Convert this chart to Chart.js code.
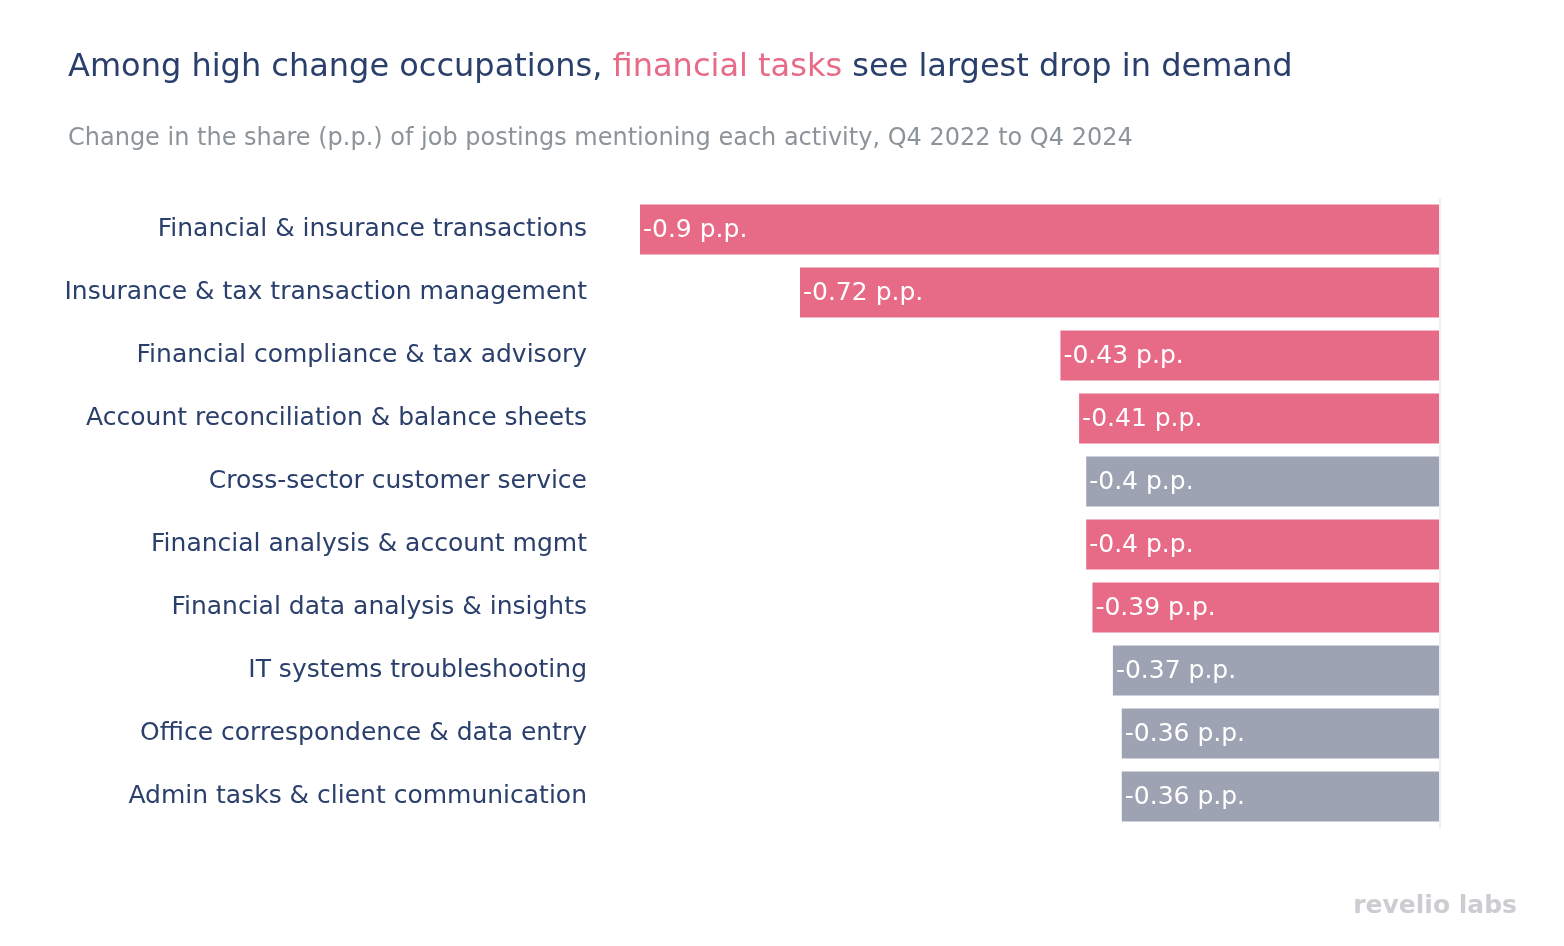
<!DOCTYPE html>
<html>
<head>
<meta charset="utf-8">
<script src="https://cdn.jsdelivr.net/npm/chart.js@4.4.1/dist/chart.umd.min.js"></script>
<style>
  body { margin: 0; background: #fff; }
  #wrap { width: 1564px; height: 946px; position: relative; }
</style>
</head>
<body>
<div id="wrap"><canvas id="bars"></canvas></div>
<script>
Chart.defaults.font.family = '"DejaVu Sans", Verdana, sans-serif';
Chart.defaults.color = '#2A3F6B';

// data
const activities = [
    'Financial & insurance transactions',
    'Insurance & tax transaction management',
    'Financial compliance & tax advisory',
    'Account reconciliation & balance sheets',
    'Cross-sector customer service',
    'Financial analysis & account mgmt',
    'Financial data analysis & insights',
    'IT systems troubleshooting',
    'Office correspondence & data entry',
    'Admin tasks & client communication'
];
const changePP = [-0.9, -0.72, -0.427, -0.406, -0.398, -0.398, -0.391, -0.368, -0.358, -0.358];
const isFinancial = [true, true, true, true, false, true, true, false, false, false];

const PINK = '#E76A87';
const GREY = '#9EA3B3';

// title, subtitle, zero line, value labels, logo
const decorPlugin = {
    id: 'decor',
    afterDatasetsDraw(chart) {
        const ctx = chart.ctx;
        const area = chart.chartArea;
        const x0 = chart.scales.x.getPixelForValue(0);

        ctx.save();
        ctx.strokeStyle = '#ECEEF4';
        ctx.lineWidth = 2;
        ctx.beginPath();
        ctx.moveTo(x0, area.top);
        ctx.lineTo(x0, area.bottom);
        ctx.stroke();

        // value labels inside bars
        ctx.font = '25px "DejaVu Sans", Verdana, sans-serif';
        ctx.fillStyle = '#ffffff';
        ctx.textAlign = 'left';
        ctx.textBaseline = 'middle';
        chart.getDatasetMeta(0).data.forEach((bar, i) => {
            const txt = (Math.round(changePP[i] * 100) / 100) + ' p.p.';
            ctx.fillText(txt, bar.x + 3, bar.y + 1);
        });

        // title with highlighted words
        ctx.textBaseline = 'alphabetic';
        ctx.font = '32px "DejaVu Sans", Verdana, sans-serif';
        let x = 68;
        const parts = [
            ['Among high change occupations, ', '#2A3F6B'],
            ['financial tasks', PINK],
            [' see largest drop in demand', '#2A3F6B']
        ];
        parts.forEach(p => {
            ctx.fillStyle = p[1];
            ctx.fillText(p[0], x, 76);
            x += ctx.measureText(p[0]).width;
        });

        ctx.font = '24px "DejaVu Sans", Verdana, sans-serif';
        ctx.fillStyle = '#8D9499';
        ctx.fillText('Change in the share (p.p.) of job postings mentioning each activity, Q4 2022 to Q4 2024', 68, 145);

        // logo
        ctx.font = 'bold 25px "DejaVu Sans", Verdana, sans-serif';
        ctx.fillStyle = '#CCCDD1';
        ctx.textAlign = 'right';
        ctx.fillText('revelio labs', 1517, 913);
        ctx.restore();
    }
};

const barData = {
    labels: activities,
    datasets: [{
        data: changePP,
        backgroundColor: isFinancial.map(f => f ? PINK : GREY),
        borderWidth: 0,
        barPercentage: 0.79,
        categoryPercentage: 1
    }]
};

const barConfig = {
    type: 'bar',
    data: barData,
    options: {
        indexAxis: 'y',
        responsive: true,
        maintainAspectRatio: false,
        animation: false,
        layout: {
            padding: { top: 198, right: 124, bottom: 118, left: 0 }
        },
        plugins: {
            legend: { display: false },
            tooltip: { enabled: false }
        },
        scales: {
            x: {
                min: -0.9,
                max: 0,
                display: false
            },
            y: {
                grid: { display: false, drawTicks: false },
                border: { display: false },
                ticks: {
                    padding: 53,
                    color: '#2A3F6B',
                    font: { size: 25 }
                },
                afterFit(scale) {
                    scale.width = 640;
                }
            }
        }
    },
    plugins: [decorPlugin]
};

const barChart = new Chart(
    document.getElementById('bars'),
    barConfig
    );
</script>
</body>
</html>
